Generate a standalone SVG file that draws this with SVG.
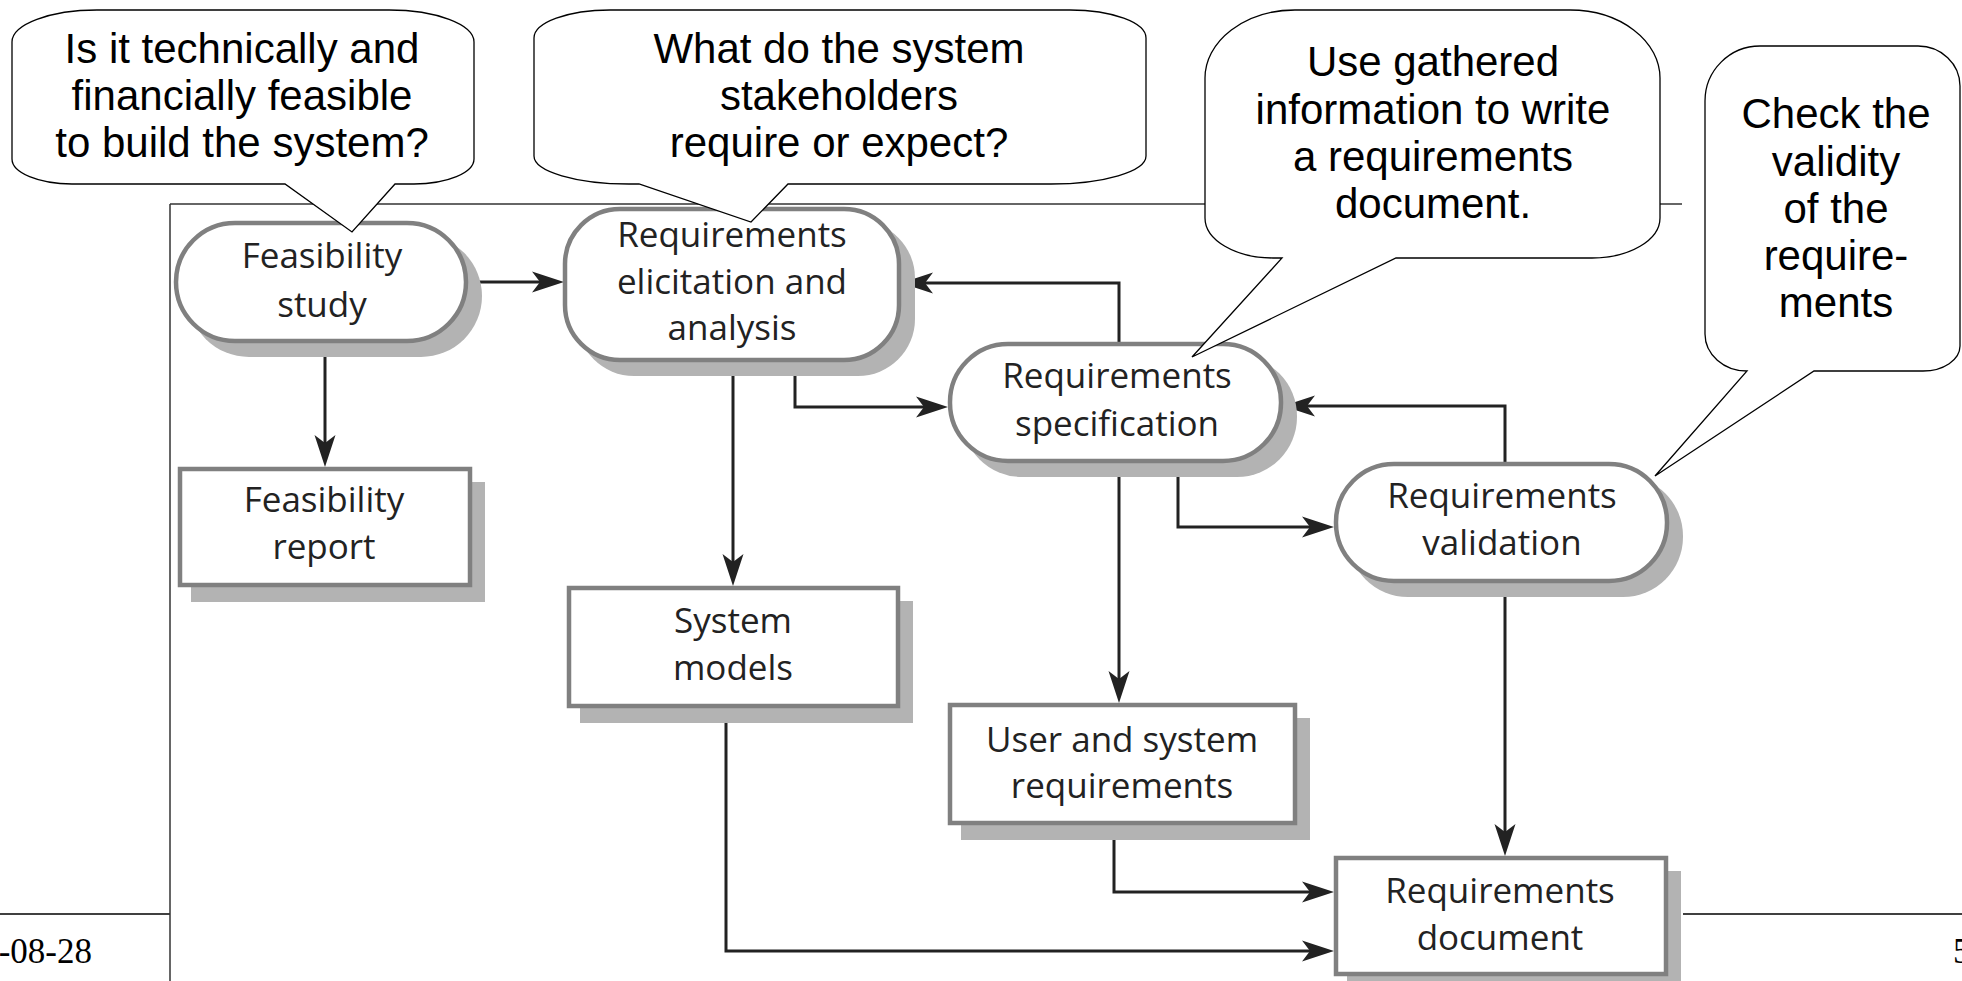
<svg xmlns="http://www.w3.org/2000/svg" width="1962" height="981" viewBox="0 0 1962 981">
<style>
.node{fill:#fff;stroke:#808080;stroke-width:4.5}
.shadow{fill:#b3b3b3;stroke:none}
.nt{font-family:"Open Sans","Noto Sans",sans-serif;font-size:35px;fill:#222;text-anchor:middle}
.conn{fill:none;stroke:#222;stroke-width:3;marker-end:url(#ah)}
.bubble{fill:#fff;stroke:#000;stroke-width:1.3;stroke-linejoin:miter}
.bt{font-family:"Liberation Sans",Arial,sans-serif;font-size:42px;fill:#000;text-anchor:middle}
.foot{font-family:"Liberation Serif","Times New Roman",serif;font-size:35px;fill:#000}
</style>
<defs>
<marker id="ah" markerUnits="userSpaceOnUse" markerWidth="40" markerHeight="30" viewBox="-30 -15 40 30" refX="0" refY="0" orient="auto">
<path d="M8,0 L-24,-10.5 L-16,0 L-24,10.5 Z" fill="#222"/>
</marker>
</defs>
<rect x="0" y="0" width="1962" height="981" fill="#fff"/>
<g id="footer">
<line x1="0" y1="914" x2="1962" y2="914" stroke="#000" stroke-width="1.6"/>
<text class="foot" x="92" y="963" text-anchor="end">-08-28</text>
<text class="foot" x="1953" y="963">5</text>
</g>
<g id="frame">
<rect x="170" y="204" width="1513" height="800" fill="#fff"/>
<line x1="170" y1="204" x2="1682" y2="204" stroke="#333" stroke-width="1.5"/>
<line x1="170" y1="204" x2="170" y2="981" stroke="#333" stroke-width="1.5"/>
</g>
<g id="connectors">
<path class="conn" d="M468,282 H556"/>
<path class="conn" d="M325,343 V459"/>
<path class="conn" d="M733,362 V578"/>
<path class="conn" d="M795,362 V407 H940"/>
<path class="conn" d="M1119,342 V283 H909"/>
<path class="conn" d="M1119,463 V695"/>
<path class="conn" d="M1178,463 V527 H1326"/>
<path class="conn" d="M1505,462 V406 H1291"/>
<path class="conn" d="M1505,583 V848"/>
<path class="conn" d="M1114,825 V892 H1326"/>
<path class="conn" d="M726,708 V951 H1326"/>
</g>
<g id="feasibility-study">
<rect class="shadow" x="188" y="235" width="294" height="122" rx="61"/>
<rect class="node" x="176" y="223" width="290" height="118" rx="59"/>
<text class="nt" x="322" y="268">Feasibility</text>
<text class="nt" x="322" y="317">study</text>
</g>
<g id="elicitation">
<rect class="shadow" x="577" y="221" width="338" height="155" rx="57"/>
<rect class="node" x="565" y="209" width="334" height="151" rx="55"/>
<text class="nt" x="732" y="247">Requirements</text>
<text class="nt" x="732" y="294">elicitation and</text>
<text class="nt" x="732" y="340">analysis</text>
</g>
<g id="specification">
<rect class="shadow" x="962" y="356" width="335" height="121" rx="60"/>
<rect class="node" x="950" y="344" width="331" height="117" rx="58"/>
<text class="nt" x="1117" y="388">Requirements</text>
<text class="nt" x="1117" y="436">specification</text>
</g>
<g id="validation">
<rect class="shadow" x="1348" y="476" width="335" height="121" rx="60"/>
<rect class="node" x="1336" y="464" width="331" height="117" rx="58"/>
<text class="nt" x="1502" y="508">Requirements</text>
<text class="nt" x="1502" y="555">validation</text>
</g>
<g id="feasibility-report">
<rect class="shadow" x="191" y="482" width="294" height="120"/>
<rect class="node" x="180" y="469" width="290" height="116"/>
<text class="nt" x="324" y="512">Feasibility</text>
<text class="nt" x="324" y="559">report</text>
</g>
<g id="system-models">
<rect class="shadow" x="580" y="601" width="333" height="122"/>
<rect class="node" x="569" y="588" width="329" height="118"/>
<text class="nt" x="733" y="633">System</text>
<text class="nt" x="733" y="680">models</text>
</g>
<g id="user-system-requirements">
<rect class="shadow" x="961" y="718" width="349" height="122"/>
<rect class="node" x="950" y="705" width="345" height="118"/>
<text class="nt" x="1122" y="752">User and system</text>
<text class="nt" x="1122" y="798">requirements</text>
</g>
<g id="requirements-document">
<rect class="shadow" x="1347" y="871" width="334" height="120"/>
<rect class="node" x="1336" y="858" width="330" height="116"/>
<text class="nt" x="1500" y="903">Requirements</text>
<text class="nt" x="1500" y="950">document</text>
</g>
<g id="callout-feasibility">
<path class="bubble" d="M97,10 H389 A85 32 0 0 1 474 42 V159 A60 25 0 0 1 414 184 H395 L352 232 L285 184 H72 A60 25 0 0 1 12 159 V42 A85 32 0 0 1 97 10 Z"/>
<text class="bt" x="242" y="63">Is it technically and</text>
<text class="bt" x="242" y="110">financially feasible</text>
<text class="bt" x="242" y="157">to build the system?</text>
</g>
<g id="callout-elicitation">
<path class="bubble" d="M610,10 H1070 A76 28 0 0 1 1146 38 V156 A95 28 0 0 1 1051 184 H788 L751 222 L639 184 H629 A95 28 0 0 1 534 156 V38 A76 28 0 0 1 610 10 Z"/>
<text class="bt" x="839" y="63">What do the system</text>
<text class="bt" x="839" y="110">stakeholders</text>
<text class="bt" x="839" y="157">require or expect?</text>
</g>
<g id="callout-specification">
<path class="bubble" d="M1295,10 H1570 A90 68 0 0 1 1660 78 V218 A68 40 0 0 1 1592 258 H1396 L1192 357 L1282 258 H1273 A68 40 0 0 1 1205 218 V78 A90 68 0 0 1 1295 10 Z"/>
<text class="bt" x="1433" y="76">Use gathered</text>
<text class="bt" x="1433" y="124">information to write</text>
<text class="bt" x="1433" y="171">a requirements</text>
<text class="bt" x="1433" y="218">document.</text>
</g>
<g id="callout-validation">
<path class="bubble" d="M1760,46 H1918 A42 40 0 0 1 1960 86 V346 A37 25 0 0 1 1923 371 H1814 L1655 476 L1747 371 A42 37 0 0 1 1705 334 V101 A55 55 0 0 1 1760 46 Z"/>
<text class="bt" x="1836" y="128">Check the</text>
<text class="bt" x="1836" y="176">validity</text>
<text class="bt" x="1836" y="223">of the</text>
<text class="bt" x="1836" y="270">require-</text>
<text class="bt" x="1836" y="317">ments</text>
</g>
</svg>
